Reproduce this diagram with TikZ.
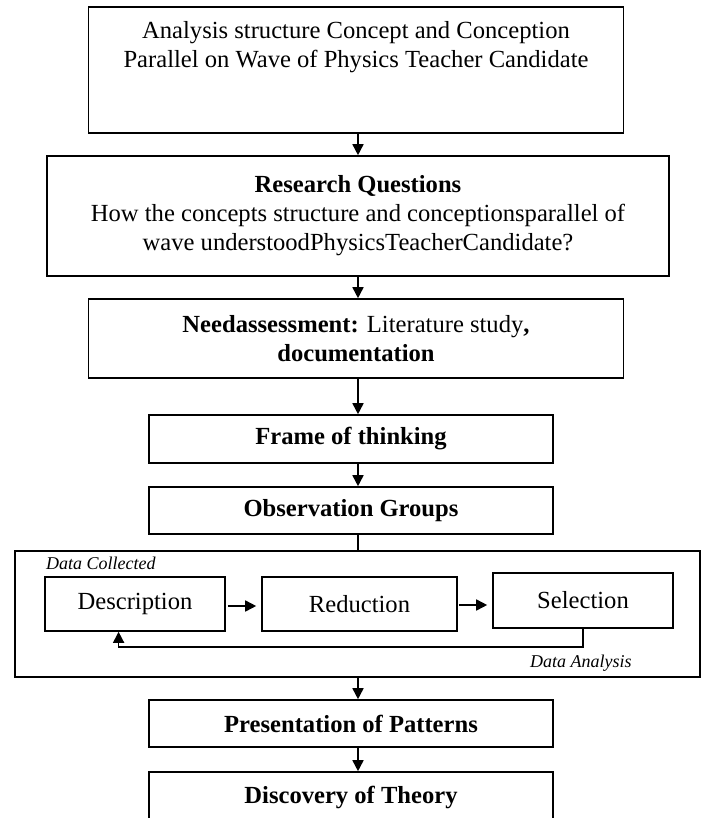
\documentclass[tikz,border=0pt]{standalone}
\usepackage{fontspec}
\setmainfont{Liberation Serif}
\usetikzlibrary{arrows.meta,calc}
\begin{document}
\begin{tikzpicture}[x=1pt,y=-1pt,
  box/.style={draw,line width=1.6pt,inner sep=0pt,align=center,font=\fontsize{24.6}{29}\selectfont},
  txt/.style={inner sep=0pt,align=center,font=\fontsize{24.6}{29}\selectfont},
  note/.style={inner sep=0pt,font=\fontsize{18}{21}\selectfont\itshape},
  arr/.style={line width=1.6pt,-{Triangle[length=11pt,width=11pt]}},
  ln/.style={line width=1.6pt}]
\useasboundingbox (0,0) rectangle (702,818);
\coordinate (ax) at (358,0);
\node[box,minimum width=535pt,minimum height=126pt] (b1) at (356,70) {};
\node[txt] (b1t) at (356,47) {Analysis structure Concept and Conception\\Parallel on Wave of Physics Teacher Candidate};
\node[box,minimum width=622pt,minimum height=120pt] (b2) at (358,216) {\textbf{Research Questions}\\How the concepts structure and conceptionsparallel of\\wave understoodPhysicsTeacherCandidate?};
\node[box,minimum width=535pt,minimum height=79pt] (b3) at (356,338.5) {\textbf{Needassessment:} Literature study\textbf{,}\\\textbf{documentation}};
\node[box,minimum width=404pt,minimum height=48pt] (b4) at (351,439) {\textbf{Frame of thinking}};
\node[box,minimum width=404pt,minimum height=47pt] (b5) at (351,510.5) {\textbf{Observation Groups}};
\node[draw,line width=1.6pt,minimum width=685pt,minimum height=126pt,inner sep=0pt] (outer) at (357.5,614) {};
\node[note,anchor=west] (dc) at (46,563) {Data Collected};
\node[box,minimum width=180pt,minimum height=54pt] (desc) at (135,604) {Description};
\node[box,minimum width=195pt,minimum height=54pt] (red) at (359.5,604) {Reduction};
\node[box,minimum width=180pt,minimum height=55pt] (sel) at (583,600.5) {Selection};
\node[note,anchor=west] (da) at (530,663) {Data Analysis};
\node[box,minimum width=404pt,minimum height=47pt] (b6) at (351,723.5) {\textbf{Presentation of Patterns}};
\node[box,minimum width=404pt,minimum height=50pt] (b7) at (351,797) {\textbf{Discovery of Theory}};
\coordinate (fb) at (118.6,647);
\draw[arr] (b1.south -| ax) -- (b2.north -| ax);
\draw[arr] (b2.south -| ax) -- (b3.north -| ax);
\draw[arr] (b3.south -| ax) -- (b4.north -| ax);
\draw[arr] (b4.south -| ax) -- (b5.north -| ax);
\draw[ln] (b5.south -| ax) -- (outer.north -| ax);
\draw[arr] (outer.south -| ax) -- (b6.north -| ax);
\draw[arr] (b6.south -| ax) -- (b7.north -| ax);
\draw[arr,shorten <=2pt,shorten >=5pt] ([yshift=-2pt]desc.east) -- ([yshift=-2pt]desc.east -| red.west);
\draw[arr,shorten <=1pt,shorten >=5pt] ([yshift=-1pt]red.east) -- ([yshift=-1pt]red.east -| sel.west);
\draw[arr] (sel.south) |- (fb) -- (fb |- desc.south);
\end{tikzpicture}
\end{document}
